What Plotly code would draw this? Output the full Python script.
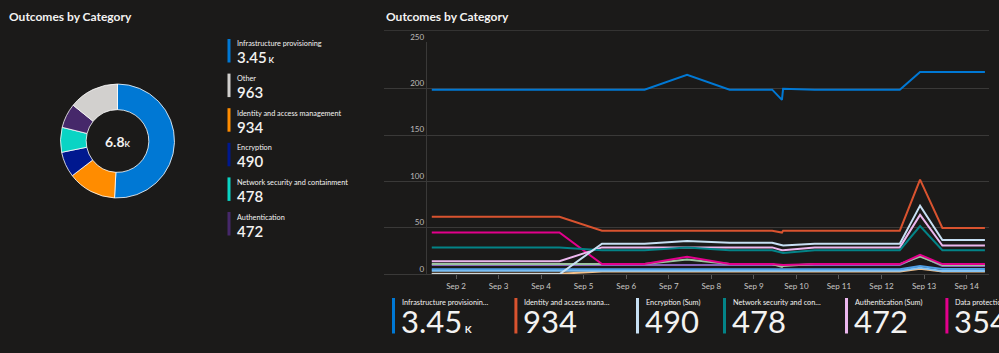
import plotly.graph_objects as go

W, H = 999, 353
BG = "#1b1a19"
FONT = "Lato, 'Noto Sans', sans-serif"

# ---------------- data ----------------
donut_labels = ["Infrastructure provisioning", "Identity and access management", "Encryption",
                "Network security and containment", "Authentication", "Other"]
donut_values = [3450, 934, 490, 478, 472, 963]
donut_colors = ["#0078d4", "#ff8c00", "#00188f", "#0ad4c4", "#46286a", "#d2d0ce"]
donut_total_text = "6.8"

legend_order = ["Infrastructure provisioning", "Other", "Identity and access management",
                "Encryption", "Network security and containment", "Authentication"]
legend_value_text = {"Infrastructure provisioning": ("3.45", "K"), "Other": ("963", ""),
                     "Identity and access management": ("934", ""), "Encryption": ("490", ""),
                     "Network security and containment": ("478", ""), "Authentication": ("472", "")}

times = ["2023-09-01 10:20", "2023-09-02 10:20", "2023-09-03 10:20", "2023-09-04 10:20",
         "2023-09-05 10:20", "2023-09-06 10:20", "2023-09-07 10:20", "2023-09-08 10:20",
         "2023-09-09 10:20", "2023-09-09 15:50", "2023-09-09 16:30", "2023-09-10 10:20",
         "2023-09-11 10:20", "2023-09-12 10:20", "2023-09-12 21:45", "2023-09-13 10:20",
         "2023-09-14 10:20"]

infra = [199, 199, 199, 199, 199, 199, 215, 199, 199, 188, 200, 199, 199, 199, 218, 218, 218]
identity = [62, 62, 62, 62, 47, 47, 47, 47, 47, 45, 47, 47, 47, 47, 102, 50, 50]
encryption = [0, 0, 0, 0, 33, 33, 36, 34, 34, 31, 31, 33, 33, 33, 74, 37, 37]
network = [29, 29, 29, 29, 26, 26, 29, 26, 26, 23, 23, 26, 26, 26, 52, 26, 26]
authentication = [14, 14, 14, 14, 29, 29, 29, 29, 29, 26, 26, 29, 29, 29, 64, 31, 31]
data_protection = [45, 45, 45, 45, 11, 11, 19, 11, 11, 10, 10, 11, 11, 11, 21, 11, 11]
series_g = [11, 11, 11, 11, 11, 11, 16, 11, 11, 8, 9, 11, 11, 11, 19, 10, 10]
series_p = [10, 10, 10, 10, 10, 10, 10, 10, 10, 10, 10, 10, 10, 10, 20, 9, 9]
series_lb1 = [5.5, 5.5, 5.5, 5.5, 5.5, 5.5, 5.5, 5.5, 5.5, 5.5, 5.5, 5.5, 5.5, 5.5, 9, 5.7, 5.7]
series_lb2 = [3.8, 3.8, 3.8, 3.8, 3.8, 3.8, 3.8, 3.8, 3.8, 3.8, 3.8, 3.8, 3.8, 3.8, 7, 3.5, 3.5]
series_tan = [0.6, 0.6, 0.6, 0.6, 3, 3, 3, 3, 3, 3, 3, 3, 3, 3, 6, 3, 3]

line_series = [
    ("Series tan", series_tan, "#f2c08a"),
    ("Series light blue 2", series_lb2, "#86c4f2"),
    ("Series light blue 1", series_lb1, "#4f9fe5"),
    ("Series purple", series_p, "#8764b8"),
    ("Series green", series_g, "#9cc4a0"),
    ("Data protection", data_protection, "#e3008c"),
    ("Authentication", authentication, "#ecb7ee"),
    ("Network security and containment", network, "#038387"),
    ("Encryption", encryption, "#c7e0f4"),
    ("Identity and access management", identity, "#d9532f"),
    ("Infrastructure provisioning", infra, "#0078d4"),
]

tile_labels = ["Infrastructure provisionin…", "Identity and access mana…", "Encryption (Sum)",
               "Network security and con…", "Authentication (Sum)", "Data protection (Sum)"]
tile_values = [("3.45", "K"), ("934", ""), ("490", ""), ("478", ""), ("472", ""), ("354", "")]
tile_colors = ["#0078d4", "#d9532f", "#c7e0f4", "#038387", "#ecb7ee", "#e3008c"]

x_tickvals = ["2023-09-%02d" % d for d in range(2, 15)]
x_ticktext = ["Sep %d" % d for d in range(2, 15)]
y_tickvals = [0, 50, 100, 150, 200, 250]


# ---------------- helpers ----------------
def X(px):
    return px / W


def Y(py):
    return 1 - py / H


fig = go.Figure()

# donut
fig.add_trace(go.Pie(
    labels=donut_labels, values=donut_values, sort=False, direction="clockwise", rotation=0,
    hole=0.55, textinfo="none", hoverinfo="skip", showlegend=False,
    marker=dict(colors=donut_colors, line=dict(color="#ffffff", width=0.8)),
    domain=dict(x=[X(60.5), X(174.5)], y=[Y(198), Y(84)]),
))

# lines
for name, vals, col in line_series:
    fig.add_trace(go.Scatter(x=times, y=vals, mode="lines", name=name,
                             line=dict(color=col, width=2), hoverinfo="skip",
                             showlegend=False, xaxis="x", yaxis="y"))

annotations = []
shapes = []

# titles
for tx in (7, 384):
    annotations.append(dict(x=X(tx), y=Y(17), xref="paper", yref="paper", xanchor="left",
                            yanchor="middle", showarrow=False, text="<b>Outcomes by Category</b>",
                            font=dict(family=FONT, size=12, color="#f3f2f1")))

# donut center
annotations.append(dict(x=X(117.5), y=Y(141), xref="paper", yref="paper", showarrow=False,
                        xanchor="center", yanchor="middle",
                        text="<b>%s</b><span style='font-size:8px'><b>K</b></span>" % donut_total_text,
                        font=dict(family=FONT, size=14, color="#f3f2f1")))

# left legend
color_of = dict(zip(donut_labels, donut_colors))
for i, name in enumerate(legend_order):
    top = 39 + 34.6 * i
    shapes.append(dict(type="rect", xref="paper", yref="paper", x0=X(227.5), x1=X(230.5),
                       y0=Y(top + 23.5), y1=Y(top), fillcolor=color_of[name], line=dict(width=0)))
    annotations.append(dict(x=X(235), y=Y(top + 5), xref="paper", yref="paper", showarrow=False,
                            xanchor="left", yanchor="middle", text=name,
                            font=dict(family=FONT, size=7.3, color="#f3f2f1")))
    num, suf = legend_value_text[name]
    txt = num + (("<span style='font-size:8px'><b> %s</b></span>" % suf) if suf else "")
    annotations.append(dict(x=X(234.5), y=Y(top + 18.5), xref="paper", yref="paper", showarrow=False,
                            xanchor="left", yanchor="middle", text=txt,
                            font=dict(family=FONT, size=15, color="#f3f2f1", weight=600)))

# bottom tiles
tile_x = [392, 514.4, 636, 723, 845, 945.4]
for lx, lab, (num, suf), col in zip(tile_x, tile_labels, tile_values, tile_colors):
    shapes.append(dict(type="rect", xref="paper", yref="paper", x0=X(lx), x1=X(lx + 3),
                       y0=Y(333.5), y1=Y(298), fillcolor=col, line=dict(width=0)))
    annotations.append(dict(x=X(lx + 8), y=Y(302.5), xref="paper", yref="paper", showarrow=False,
                            xanchor="left", yanchor="middle", text=lab,
                            font=dict(family=FONT, size=7.3, color="#f3f2f1")))
    txt = num + (("<span style='font-size:10px'><b> %s</b></span>" % suf) if suf else "")
    annotations.append(dict(x=X(lx + 7), y=Y(321), xref="paper", yref="paper", showarrow=False,
                            xanchor="left", yanchor="middle", text=txt,
                            font=dict(family=FONT, size=31, color="#f3f2f1")))

# top border line of chart panel
shapes.append(dict(type="line", xref="paper", yref="paper", x0=X(384), x1=X(989),
                   y0=Y(30.5), y1=Y(30.5), line=dict(color="#343332", width=1)))

GRID = "#3a3938"
fig.update_layout(
    width=W, height=H, margin=dict(l=0, r=0, t=0, b=0, autoexpand=False),
    paper_bgcolor=BG, plot_bgcolor=BG, showlegend=False,
    annotations=annotations, shapes=shapes,
    xaxis=dict(domain=[X(384), X(989)], type="date", automargin=False,
               range=["2023-08-31 07:23", "2023-09-14 12:38"],
               tickmode="array", tickvals=x_tickvals, ticktext=x_ticktext,
               showgrid=False, zeroline=False, showline=True, linecolor=GRID, linewidth=1,
               ticks="outside", ticklen=4, tickcolor="#5a5958",
               tickfont=dict(family=FONT, size=8, color="#c8c6c4"), anchor="y", fixedrange=True),
    yaxis=dict(domain=[Y(274.3), Y(42.3)], range=[0, 250], tickmode="array", tickvals=y_tickvals,
               automargin=False,
               showgrid=True, gridcolor=GRID, gridwidth=1, zeroline=False,
               showline=True, linecolor=GRID, linewidth=1,
               anchor="free", position=X(425.7), ticklabelposition="outside top",
               ticks="", tickfont=dict(family=FONT, size=8, color="#bdbbb9"), fixedrange=True),
)

fig.write_html("out.html")
